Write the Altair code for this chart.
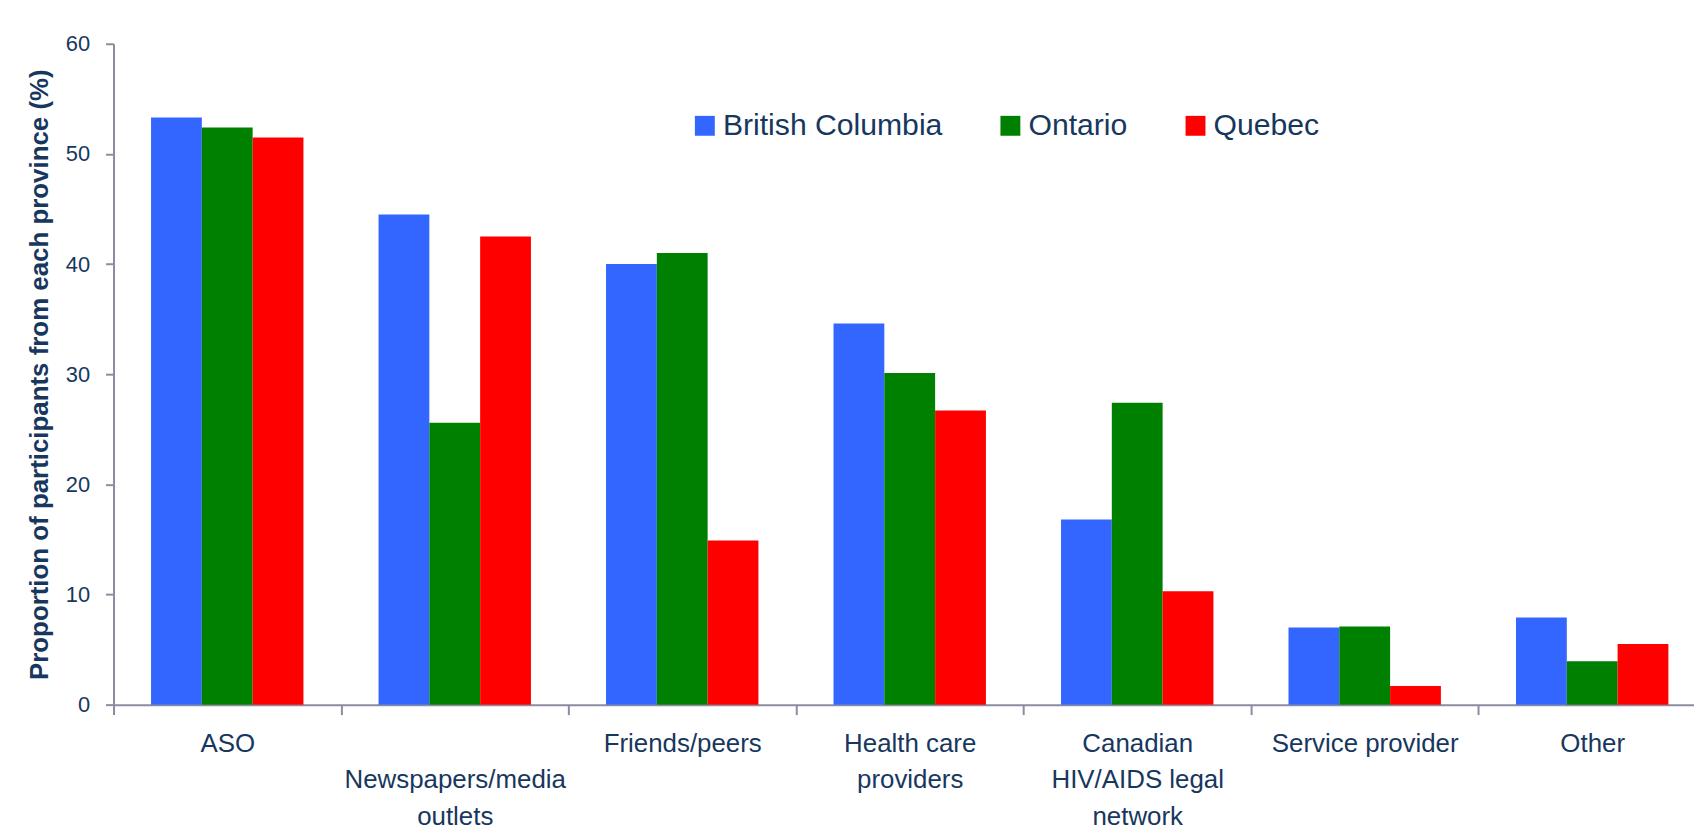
import altair as alt
import pandas as pd

categories = ["ASO", "Newspapers/media outlets", "Friends/peers", "Health care providers",
              "Canadian HIV/AIDS legal network", "Service provider", "Other"]
label_text = ["ASO", " |Newspapers/media|outlets", "Friends/peers", "Health care|providers",
              "Canadian|HIV/AIDS legal|network", "Service provider", "Other"]
provinces = ["British Columbia", "Ontario", "Quebec"]
bc = [53.3, 44.5, 40.0, 34.6, 16.8, 7.0, 7.9]
on = [52.4, 25.6, 41.0, 30.1, 27.4, 7.1, 3.95]
qc = [51.5, 42.5, 14.9, 26.7, 10.3, 1.7, 5.5]
colors = ["#3366FF", "#008000", "#FF0000"]
y_ticks = [0, 10, 20, 30, 40, 50, 60]

rows = []
for i, c in enumerate(categories):
    for p, vals in zip(provinces, [bc, on, qc]):
        rows.append({"category": c, "province": p, "value": vals[i]})
df = pd.DataFrame(rows)

navy = "#17375E"
grey = "#8A8DA0"
font = "Liberation Sans, Arial, sans-serif"

cats_js = "[" + ",".join("'" + c + "'" for c in categories) + "]"
labs_js = "[" + ",".join("'" + l + "'" for l in label_text) + "]"
label_expr = (f"indexof({cats_js}, datum.value) < 0 ? '' : "
              f"split({labs_js}[indexof({cats_js}, datum.value)], '|')")

chart = alt.Chart(df).mark_bar().encode(
    x=alt.X("category:N",
            scale=alt.Scale(domain=categories, range=[0, 1600], paddingInner=0, paddingOuter=0),
            axis=alt.Axis(title=None, labelAngle=0, labelExpr=label_expr, labelFont=font,
                          labelFontSize=26, labelColor=navy, labelLineHeight=36.5, labelLimit=400,
                          labelOverlap=False, labelPadding=16, tickBand="extent", tickSize=10,
                          tickColor=grey, tickWidth=2, domainColor=grey, domainWidth=2,
                          labelBaseline="top")),
    xOffset=alt.XOffset("province:N", sort=provinces,
                        scale=alt.Scale(paddingInner=0, paddingOuter=0.739)),
    y=alt.Y("value:Q",
            scale=alt.Scale(domain=[0, 60], nice=False),
            axis=alt.Axis(title="Proportion of participants from each province (%)",
                          values=y_ticks, grid=False, labelFont=font, labelFontSize=22,
                          labelColor=navy, labelPadding=16, tickSize=8, tickColor=grey,
                          tickWidth=2, domainColor=grey, domainWidth=2,
                          titleFont=font, titleFontSize=26,
                          titleFontWeight="bold", titleColor=navy, titlePadding=13)),
    color=alt.Color("province:N",
                    scale=alt.Scale(domain=provinces, range=colors),
                    legend=alt.Legend(title=None, orient="none", direction="horizontal",
                                      legendX=579, legendY=67, symbolType="square",
                                      symbolSize=400, symbolStrokeWidth=0, symbolOpacity=1,
                                      labelFont=font, labelFontSize=30.3, labelColor=navy,
                                      labelOffset=3, columnPadding=53, labelLimit=400)),
).properties(
    width=1588,
    height=664,
    autosize=alt.AutoSizeParams(type="none"),
    padding={"left": 106, "top": 34, "right": 0, "bottom": 119},
    background="white",
).configure_view(stroke=None)

chart.save("out.html", embed_options={"renderer": "svg", "actions": False})
